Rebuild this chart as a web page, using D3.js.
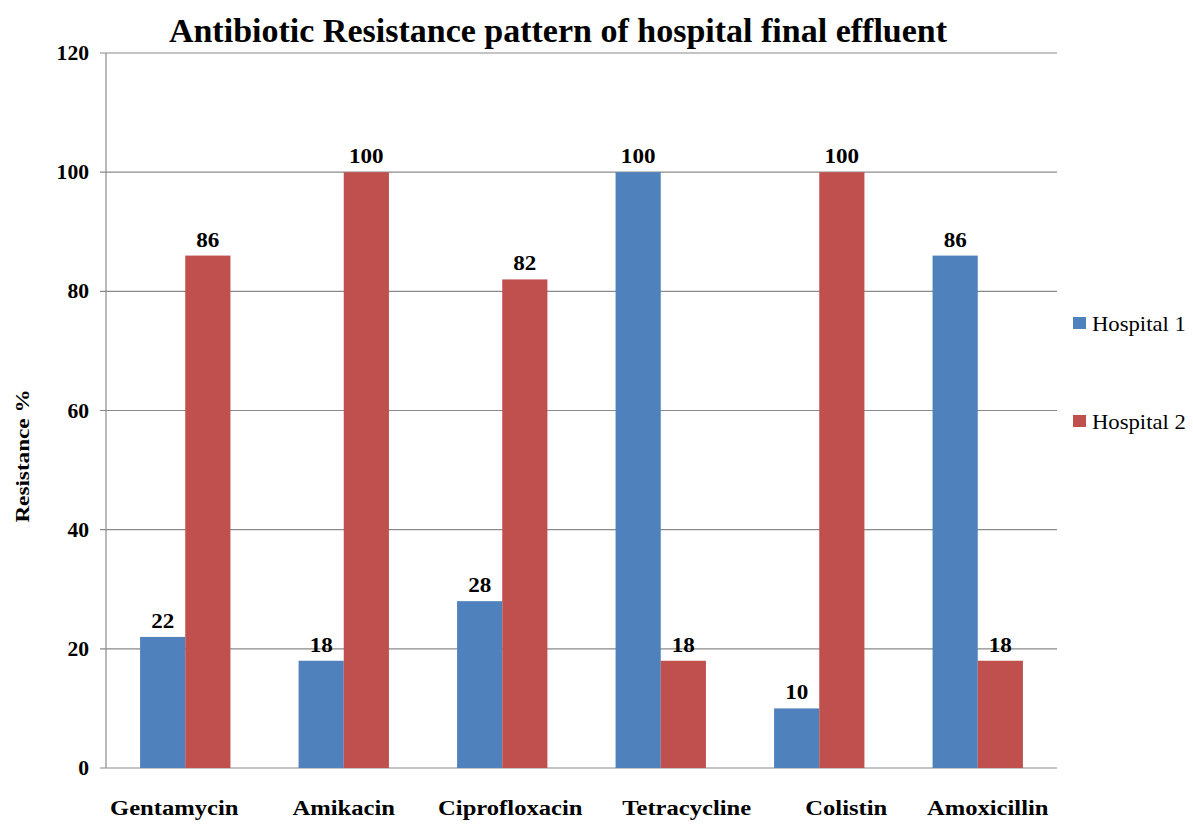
<!DOCTYPE html>
<html>
<head>
<meta charset="utf-8">
<script src="https://cdn.jsdelivr.net/npm/d3@7"></script>
<style>
  body { margin: 0; background: #fff; }
  text { font-family: "Liberation Serif", "Times New Roman", serif; }
</style>
</head>
<body>
<svg id="chart"></svg>
<script>
// Data
const antibiotics = ['Gentamycin', 'Amikacin', 'Ciprofloxacin', 'Tetracycline', 'Colistin', 'Amoxicillin'];
const hospital1 = [22, 18, 28, 100, 10, 86];
const hospital2 = [86, 100, 82, 18, 100, 18];
const seriesNames = ['Hospital 1', 'Hospital 2'];
const seriesColors = ['#4F81BD', '#C0504D'];
const yTicks = [0, 20, 40, 60, 80, 100, 120];

// the category labels in the original sit a little off their groups
const labelNudge = [-11, 0, 8, 26, 27, 10];

const width = 1193, height = 824;
const margin = { top: 53, right: 136, bottom: 56, left: 106 };

const svg = d3.select("#chart").attr("width", width).attr("height", height);

const x = d3.scaleBand()
    .domain(antibiotics)
    .range([margin.left, width - margin.right])
    .paddingInner(0.43)
    .paddingOuter(0.215);

const xSub = d3.scaleBand()
    .domain(seriesNames)
    .range([0, x.bandwidth()]);

const y = d3.scaleLinear()
    .domain([0, 120])
    .range([height - margin.bottom, margin.top]);

// text is a bit wider in the original, stretch it horizontally
const place = (px, py, sx) => `translate(${px},${py}) scale(${sx},1)`;

// gridlines
svg.append("g")
    .selectAll("line")
    .data(yTicks)
    .enter()
    .append("line")
    .attr("x1", margin.left - 6)
    .attr("x2", width - margin.right)
    .attr("y1", d => y(d))
    .attr("y2", d => y(d))
    .attr("stroke", "#8a8a8a")
    .attr("stroke-width", 1.2);

// y axis line
svg.append("line")
    .attr("x1", margin.left).attr("x2", margin.left)
    .attr("y1", y(120)).attr("y2", y(0))
    .attr("stroke", "#8a8a8a")
    .attr("stroke-width", 1.2);

// y tick labels
svg.append("g")
    .selectAll("text")
    .data(yTicks)
    .enter()
    .append("text")
    .attr("transform", d => place(margin.left - 17, y(d) + 7, 1.08))
    .attr("text-anchor", "end")
    .style("font-size", "20px")
    .style("font-weight", "bold")
    .text(d => d);

// bars
const rows = antibiotics.map((a, i) => ({ name: a, values: [hospital1[i], hospital2[i]] }));

const groups = svg.append("g")
    .selectAll("g")
    .data(rows)
    .enter()
    .append("g")
    .attr("transform", d => `translate(${x(d.name)},0)`);

groups.selectAll("rect")
    .data(d => d.values.map((v, k) => ({ key: seriesNames[k], value: v, color: seriesColors[k] })))
    .enter()
    .append("rect")
    .attr("x", d => xSub(d.key))
    .attr("width", xSub.bandwidth())
    .attr("y", d => y(d.value))
    .attr("height", d => y(0) - y(d.value))
    .attr("fill", d => d.color);

// value labels
groups.selectAll("text")
    .data(d => d.values.map((v, k) => ({ key: seriesNames[k], value: v })))
    .enter()
    .append("text")
    .attr("transform", d => place(xSub(d.key) + xSub.bandwidth() / 2, y(d.value) - 9, 1.05))
    .attr("text-anchor", "middle")
    .style("font-size", "22px")
    .style("font-weight", "bold")
    .text(d => d.value);

// category labels
svg.append("g")
    .selectAll("text")
    .data(antibiotics)
    .enter()
    .append("text")
    .attr("transform", (d, i) => place(x(d) + x.bandwidth() / 2 + labelNudge[i], 815, 1.23))
    .attr("text-anchor", "middle")
    .style("font-size", "20px")
    .style("font-weight", "bold")
    .text(d => d);

// title
svg.append("text")
    .attr("x", 558)
    .attr("y", 42)
    .attr("text-anchor", "middle")
    .style("font-size", "34px")
    .style("font-weight", "bold")
    .text("Antibiotic Resistance pattern of hospital final effluent");

// y axis title
svg.append("text")
    .attr("transform", "translate(29,456) rotate(-90) scale(1.22,1)")
    .attr("text-anchor", "middle")
    .style("font-size", "19px")
    .style("font-weight", "bold")
    .text("Resistance %");

// legend
const legend = svg.append("g")
    .selectAll("g")
    .data(seriesNames)
    .enter()
    .append("g")
    .attr("transform", (d, i) => `translate(1073,${317 + i * 98})`);

legend.append("rect")
    .attr("width", 13)
    .attr("height", 12)
    .attr("fill", (d, i) => seriesColors[i]);

legend.append("text")
    .attr("transform", place(19, 14, 1.03))
    .style("font-size", "22px")
    .text(d => d);
</script>
</body>
</html>
